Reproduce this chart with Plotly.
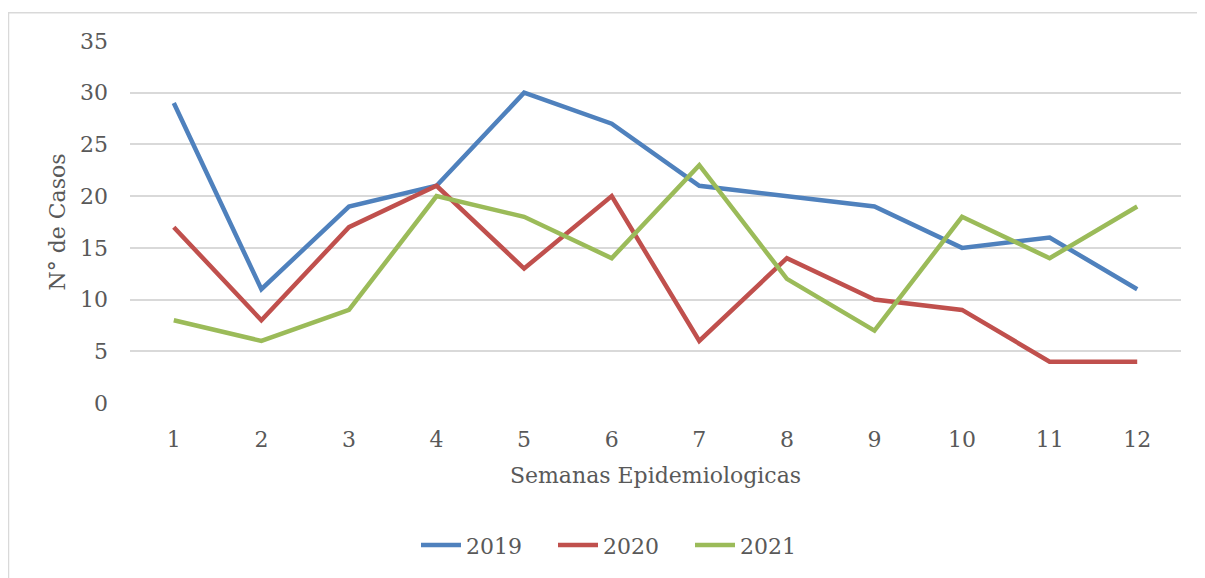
import plotly.graph_objects as go

semanas = [1, 2, 3, 4, 5, 6, 7, 8, 9, 10, 11, 12]
casos_2019 = [29, 11, 19, 21, 30, 27, 21, 20, 19, 15, 16, 11]
casos_2020 = [17, 8, 17, 21, 13, 20, 6, 14, 10, 9, 4, 4]
casos_2021 = [8, 6, 9, 20, 18, 14, 23, 12, 7, 18, 14, 19]
series_names = ["2019", "2020", "2021"]
colors = ["#4F81BD", "#C0504D", "#9BBB59"]
y_ticks = [0, 5, 10, 15, 20, 25, 30, 35]

# page offset of the figure (body margin) is 8px
OFF = 8
W, H = 1205 - OFF, 578 - OFF
L, R, T, B = 130 - OFF, 24, 41 - OFF, 173
FONT = "DejaVu Serif, Liberation Serif, serif"
TXT = "#595959"
FS = 22

fig = go.Figure()
for name, vals, c in zip(series_names, [casos_2019, casos_2020, casos_2021], colors):
    fig.add_trace(go.Scatter(x=semanas, y=vals, mode="lines", name=name,
                             line=dict(color=c, width=4.5)))

pw = W - L - R
ph = H - T - B
def px2x(px):
    return (px - OFF - L) / pw
def py2y(py):
    return (H - B - (py - OFF)) / ph

fig.add_shape(type="rect", xref="paper", yref="paper",
              x0=px2x(8.5), x1=px2x(1215), y0=py2y(12.5), y1=py2y(600),
              line=dict(color="#D9D9D9", width=1.5), fillcolor="rgba(0,0,0,0)", layer="below")

fig.update_layout(
    width=W, height=H,
    margin=dict(l=L, r=R, t=T, b=B),
    paper_bgcolor="white", plot_bgcolor="white",
    font=dict(family=FONT, size=FS, color=TXT),
    showlegend=True,
    legend=dict(orientation="h", x=px2x(416), xanchor="left", y=py2y(548), yanchor="middle",
                font=dict(size=FS, color=TXT), itemwidth=40, tracegroupgap=0,
                entrywidth=82, entrywidthmode="pixels"),
    xaxis=dict(range=[0.5, 12.5], tickvals=semanas, ticktext=[str(s) for s in semanas],
               showgrid=False, zeroline=False, showline=False, ticks="",
               ticklabelstandoff=21,
               title=dict(text="Semanas Epidemiologicas", font=dict(size=FS, color=TXT), standoff=16),
               fixedrange=True),
    yaxis=dict(range=[0, 35], tickvals=y_ticks, ticktext=[str(v) for v in y_ticks],
               showgrid=True, gridcolor="#D9D9D9", gridwidth=1.5, zeroline=False,
               showline=False, ticks="", ticklabelstandoff=21,
               title=dict(text="N° de Casos", font=dict(size=FS, color=TXT), standoff=8),
               fixedrange=True),
)

fig.write_html("out.html")
